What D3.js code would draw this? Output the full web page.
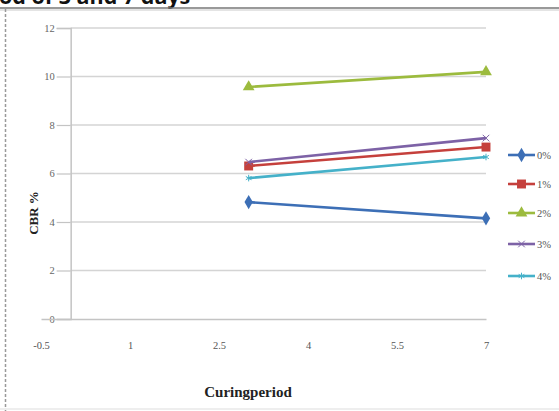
<!DOCTYPE html>
<html><head><meta charset="utf-8">
<script src="https://cdn.jsdelivr.net/npm/d3@7"></script>
<style>
html,body{margin:0;padding:0;background:#fff;}
svg{display:block;}
</style></head>
<body>
<script>
const periods = [3, 7];
const seriesNames = ["0%", "1%", "2%", "3%", "4%"];
const series0 = [4.82, 4.15];
const series1 = [6.31, 7.09];
const series2 = [9.57, 10.19];
const series3 = [6.47, 7.46];
const series4 = [5.81, 6.68];
const xTicks = [-0.5, 1, 2.5, 4, 5.5, 7];
const yTicks = [0, 2, 4, 6, 8, 10, 12];
const colors = ["#3d6fb6", "#c5403c", "#9cbb3e", "#7d62a6", "#45b1c9"];
const markers = ["diamond", "square", "triangle", "x", "star"];

const allSeries = [series0, series1, series2, series3, series4];

const W = 559, H = 411;
const svg = d3.select("body").append("svg").attr("width", W).attr("height", H);

// title fragment (cut off at the top, as in the source image)
svg.append("text").attr("x", -1).attr("y", 4)
  .attr("font-family", "Open Sans, DejaVu Sans, sans-serif").attr("font-weight", "bold")
  .attr("font-size", 21.5).attr("fill", "#111").text("od of 3 and 7 days");

// frame
svg.append("line").attr("x1", 0).attr("x2", W).attr("y1", 8).attr("y2", 8)
  .attr("stroke", "#777").attr("stroke-width", 1.5);
svg.append("line").attr("x1", 0).attr("x2", W).attr("y1", 10).attr("y2", 10)
  .attr("stroke", "#e4e4e4").attr("stroke-width", 2);
svg.append("line").attr("x1", 5.5).attr("x2", 5.5).attr("y1", 9).attr("y2", H)
  .attr("stroke", "#999").attr("stroke-width", 1.5).attr("stroke-dasharray", "3,2");
svg.append("line").attr("x1", 0).attr("x2", W).attr("y1", 409).attr("y2", 409)
  .attr("stroke", "#eee").attr("stroke-width", 2);

const x = d3.scaleLinear().domain([-0.5, 7]).range([41, 486]);
const y = d3.scaleLinear().domain([0, 12]).range([319, 28]);

// gridlines
svg.append("g").selectAll("line").data(yTicks.filter(d => d > 0)).join("line")
  .attr("x1", x(0)).attr("x2", x(7)).attr("y1", d => y(d)).attr("y2", d => y(d))
  .attr("stroke", "#d4d4d4").attr("stroke-width", 1.5);

// y axis
const yAxis = d3.axisLeft(y).tickValues(yTicks).tickSize(14).tickPadding(2).tickFormat(d3.format("d"));
const gy = svg.append("g").attr("transform", `translate(${x(0)},0)`).call(yAxis);
gy.select(".domain").attr("stroke", "#c4c4c4").attr("stroke-width", 1.5);
gy.selectAll(".tick line").attr("stroke", "#c4c4c4").attr("stroke-width", 1.2);
gy.selectAll("text").attr("font-family", "Liberation Serif, serif").attr("font-size", 10.5).attr("fill", "#666");

// x axis
const xAxis = d3.axisBottom(x).tickValues(xTicks).tickSize(0).tickPadding(23).tickFormat(d => String(d));
const gx = svg.append("g").attr("transform", `translate(0,${y(0)})`).call(xAxis);
gx.select(".domain").attr("stroke", "#c4c4c4").attr("stroke-width", 1.5);
gx.selectAll("text").attr("font-family", "Liberation Serif, serif").attr("font-size", 10.5).attr("fill", "#555");

// axis titles
svg.append("text").attr("x", 248).attr("y", 397).attr("text-anchor", "middle")
  .attr("font-family", "Liberation Serif, serif").attr("font-weight", "bold").attr("font-size", 15)
  .attr("fill", "#222").text("Curingperiod");
svg.append("text").attr("transform", "translate(38,213) rotate(-90)").attr("text-anchor", "middle")
  .attr("font-family", "Liberation Serif, serif").attr("font-weight", "bold").attr("font-size", 13)
  .attr("fill", "#222").text("CBR %");

function drawMarker(g, type, cx, cy, color) {
  if (type === "diamond") {
    g.append("path").attr("d", d3.symbol(d3.symbolDiamond, 60)()).attr("transform", `translate(${cx},${cy})`).attr("fill", color);
  } else if (type === "square") {
    g.append("path").attr("d", d3.symbol(d3.symbolSquare, 80)()).attr("transform", `translate(${cx},${cy})`).attr("fill", color);
  } else if (type === "triangle") {
    g.append("path").attr("d", d3.symbol(d3.symbolTriangle, 60)()).attr("transform", `translate(${cx},${cy})`).attr("fill", color);
  } else if (type === "x") {
    g.append("path").attr("d", d3.symbol(d3.symbolX, 30)()).attr("transform", `translate(${cx},${cy})`)
      .attr("fill", "none").attr("stroke", color).attr("stroke-width", 1);
  } else {
    g.append("path").attr("d", d3.symbol(d3.symbolAsterisk, 30)()).attr("transform", `translate(${cx},${cy})`)
      .attr("fill", "none").attr("stroke", color).attr("stroke-width", 1);
  }
}

const line = d3.line().x((d, i) => x(periods[i])).y(d => y(d));
allSeries.forEach((vals, si) => {
  const g = svg.append("g");
  g.append("path").attr("d", line(vals)).attr("fill", "none")
    .attr("stroke", colors[si]).attr("stroke-width", 2.6);
  vals.forEach((v, i) => drawMarker(g, markers[si], x(periods[i]), y(v), colors[si]));
});

// legend
const legY = [155, 184, 213, 244, 276];
seriesNames.forEach((name, i) => {
  const g = svg.append("g");
  g.append("line").attr("x1", 508).attr("x2", 535).attr("y1", legY[i]).attr("y2", legY[i])
    .attr("stroke", colors[i]).attr("stroke-width", 2.6);
  drawMarker(g, markers[i], 521.5, legY[i], colors[i]);
  g.append("text").attr("x", 537).attr("y", legY[i] + 3.5)
    .attr("font-family", "Liberation Serif, serif").attr("font-size", 10.5).attr("fill", "#555").text(name);
});
</script>
</body></html>
